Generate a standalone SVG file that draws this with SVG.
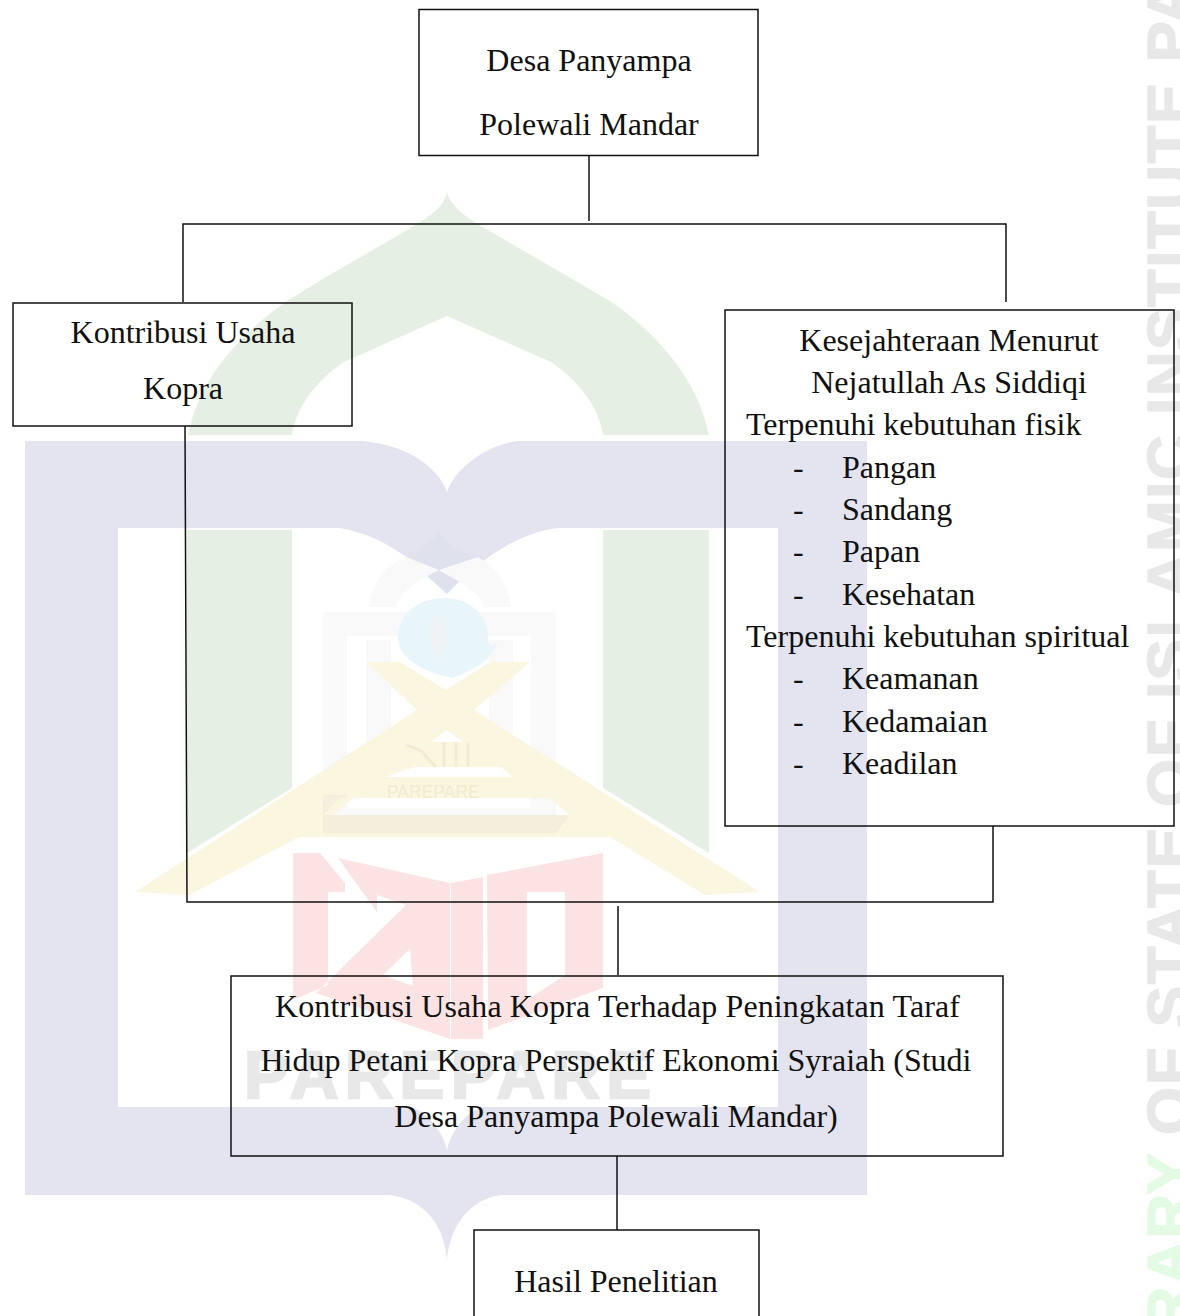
<svg xmlns="http://www.w3.org/2000/svg" width="1180" height="1316" viewBox="0 0 1180 1316">
<style>
.b{fill:none;stroke:#111;stroke-width:1.5}
.c{fill:none;stroke:#111;stroke-width:1.5}
.t{font-family:"Liberation Serif","Times New Roman",serif;font-size:32px;fill:#111}
.m{text-anchor:middle}
.w{font-family:"Liberation Sans",Arial,sans-serif;font-weight:700}
</style>
<rect width="1180" height="1316" fill="#fff"/>
<g id="watermark">
<path fill="#e5efe3" d="M447 193C442 208 433 215 402 233L321 280L287 301C245 330 200 375 188 435H292C296 405 320 378 344 362L447 316L551 362C575 378 599 405 603 435H709C697 375 652 330 610 301L493 233C462 215 453 208 447 193Z"/>
<path fill="#e5efe3" d="M187 530H292V788L187 853Z M603 530H709V853L603 788Z"/>
<path fill="#e3e4ef" fill-rule="evenodd" d="M25 441L362 441C410 445 440 470 447 492C454 470 485 445 517 441L867 441L867 1195L500 1195C470 1200 450 1225 447 1260C444 1225 425 1200 390 1195L25 1195Z M118 528L339 528C385 535 420 565 447 594C475 565 510 535 557 528L778 528L778 1107L484 1107C465 1112 452 1130 447 1150C442 1130 428 1112 410 1107L118 1107Z"/>
<path fill="#dfe2ec" d="M439 532C430 545 415 552 406 557L447 594L478 557C460 552 448 545 439 532Z"/>
<path fill="#f9f9f9" fill-rule="evenodd" d="M368 607C375 570 400 560 406 557L439 570C420 580 400 590 396 607Z M511 607C505 570 485 562 478 557L439 570C455 580 480 590 484 607Z"/>
<path fill="#f9f9f9" fill-rule="evenodd" d="M323 612H556V833H323Z M347 636H531V808H347Z"/>
<path fill="#f9f9f9" d="M366 640H391V740L366 760Z M489 640H513V760L489 740Z"/>
<path fill="#e8f6fb" d="M444 598C470 598 488 615 488 637C488 650 496 645 497 640C495 660 470 672 452 678C425 672 398 660 398 637C398 615 418 598 444 598Z"/>
<path fill="#f0f3f5" d="M430 618L442 615L448 640L440 660L430 645Z"/>
<path fill="#fbf6e0" fill-rule="evenodd" d="M366 662H400L446 690L490 662H530L474 710L760 892L705 895L610 837H299L189 895L135 892L417 710Z M446 730L463 742H431Z M415 767H501L513 777H385Z M354 798H549L570 815H332Z"/>
<path fill="#f3efdc" d="M323 795H347V798H340L323 815Z M323 815H570L556 833H323Z"/>
<path fill="none" stroke="#f2ebd0" stroke-width="3" d="M406 745L420 750L436 767M444 742V767M456 742V767M468 742V767"/>
<text class="w" x="387" y="798" font-size="17.500" style="font-weight:400" fill="#f2ebd0">PAREPARE</text>
<path fill="#fbe3e4" fill-rule="evenodd" d="M293 853H320L345 883V892H328V985L293 1000Z M338 858L450 883V1039L316 993L406 905L377 895V912Z M410 949L383 975L413 986Z M451 883L483 877V1039L451 1039Z M487 875L603 853V988L488 1030Z M527 892H565V975L527 1000Z"/>
<text class="w" x="244" y="1098" font-size="67" textLength="407" lengthAdjust="spacing" fill="#e8e8e8" stroke="#e8e8e8" stroke-width="2.500">PAREPARE</text>
<text class="w" transform="translate(1190 1135) rotate(-90)" font-size="62" letter-spacing="1.500" fill="#e8e8e8" stroke="#e8e8e8" stroke-width="1.500">OF STATE OF ISLAMIC INSTITUTE PA</text>
<text class="w" transform="translate(1190 1152) rotate(-90)" font-size="62" letter-spacing="1.500" text-anchor="end" fill="#e3fbe3" stroke="#e3fbe3" stroke-width="1.500">RARY</text>
</g>
<g id="connectors">
<path class="c" d="M589 155V221"/>
<path class="c" d="M183 302V224H1006V302"/>
<path class="c" d="M185 426L187 902H993V826"/>
<path class="c" d="M618 906V975"/>
<path class="c" d="M617 1156V1230"/>
</g>
<g id="node-desa">
<rect class="b" x="419" y="9.500" width="339" height="146"/>
<text class="t m" x="589" y="71">Desa Panyampa</text>
<text class="t m" x="589" y="135">Polewali Mandar</text>
</g>
<g id="node-kontribusi">
<rect class="b" x="13" y="303" width="339" height="123"/>
<text class="t m" x="183" y="343">Kontribusi Usaha</text>
<text class="t m" x="183" y="399">Kopra</text>
</g>
<g id="node-kesejahteraan">
<rect class="b" x="725" y="310" width="449" height="516"/>
<text class="t m" x="949" y="351">Kesejahteraan Menurut</text>
<text class="t m" x="949" y="393">Nejatullah As Siddiqi</text>
<text class="t" x="746" y="435">Terpenuhi kebutuhan fisik</text>
<text class="t" x="793" y="478">-</text><text class="t" x="842" y="478">Pangan</text>
<text class="t" x="793" y="520">-</text><text class="t" x="842" y="520">Sandang</text>
<text class="t" x="793" y="562">-</text><text class="t" x="842" y="562">Papan</text>
<text class="t" x="793" y="605">-</text><text class="t" x="842" y="605">Kesehatan</text>
<text class="t" x="746" y="647">Terpenuhi kebutuhan spiritual</text>
<text class="t" x="793" y="689">-</text><text class="t" x="842" y="689">Keamanan</text>
<text class="t" x="793" y="732">-</text><text class="t" x="842" y="732">Kedamaian</text>
<text class="t" x="793" y="774">-</text><text class="t" x="842" y="774">Keadilan</text>
</g>
<g id="node-judul">
<rect class="b" x="231" y="976" width="772" height="180"/>
<text class="t" x="275" y="1017" textLength="685" lengthAdjust="spacing">Kontribusi Usaha Kopra Terhadap Peningkatan Taraf</text>
<text class="t m" x="616" y="1071">Hidup Petani Kopra Perspektif Ekonomi Syraiah (Studi</text>
<text class="t m" x="616" y="1127">Desa Panyampa Polewali Mandar)</text>
</g>
<g id="node-hasil">
<rect class="b" x="474" y="1230" width="285" height="100"/>
<text class="t m" x="616" y="1292">Hasil Penelitian</text>
</g>
</svg>
